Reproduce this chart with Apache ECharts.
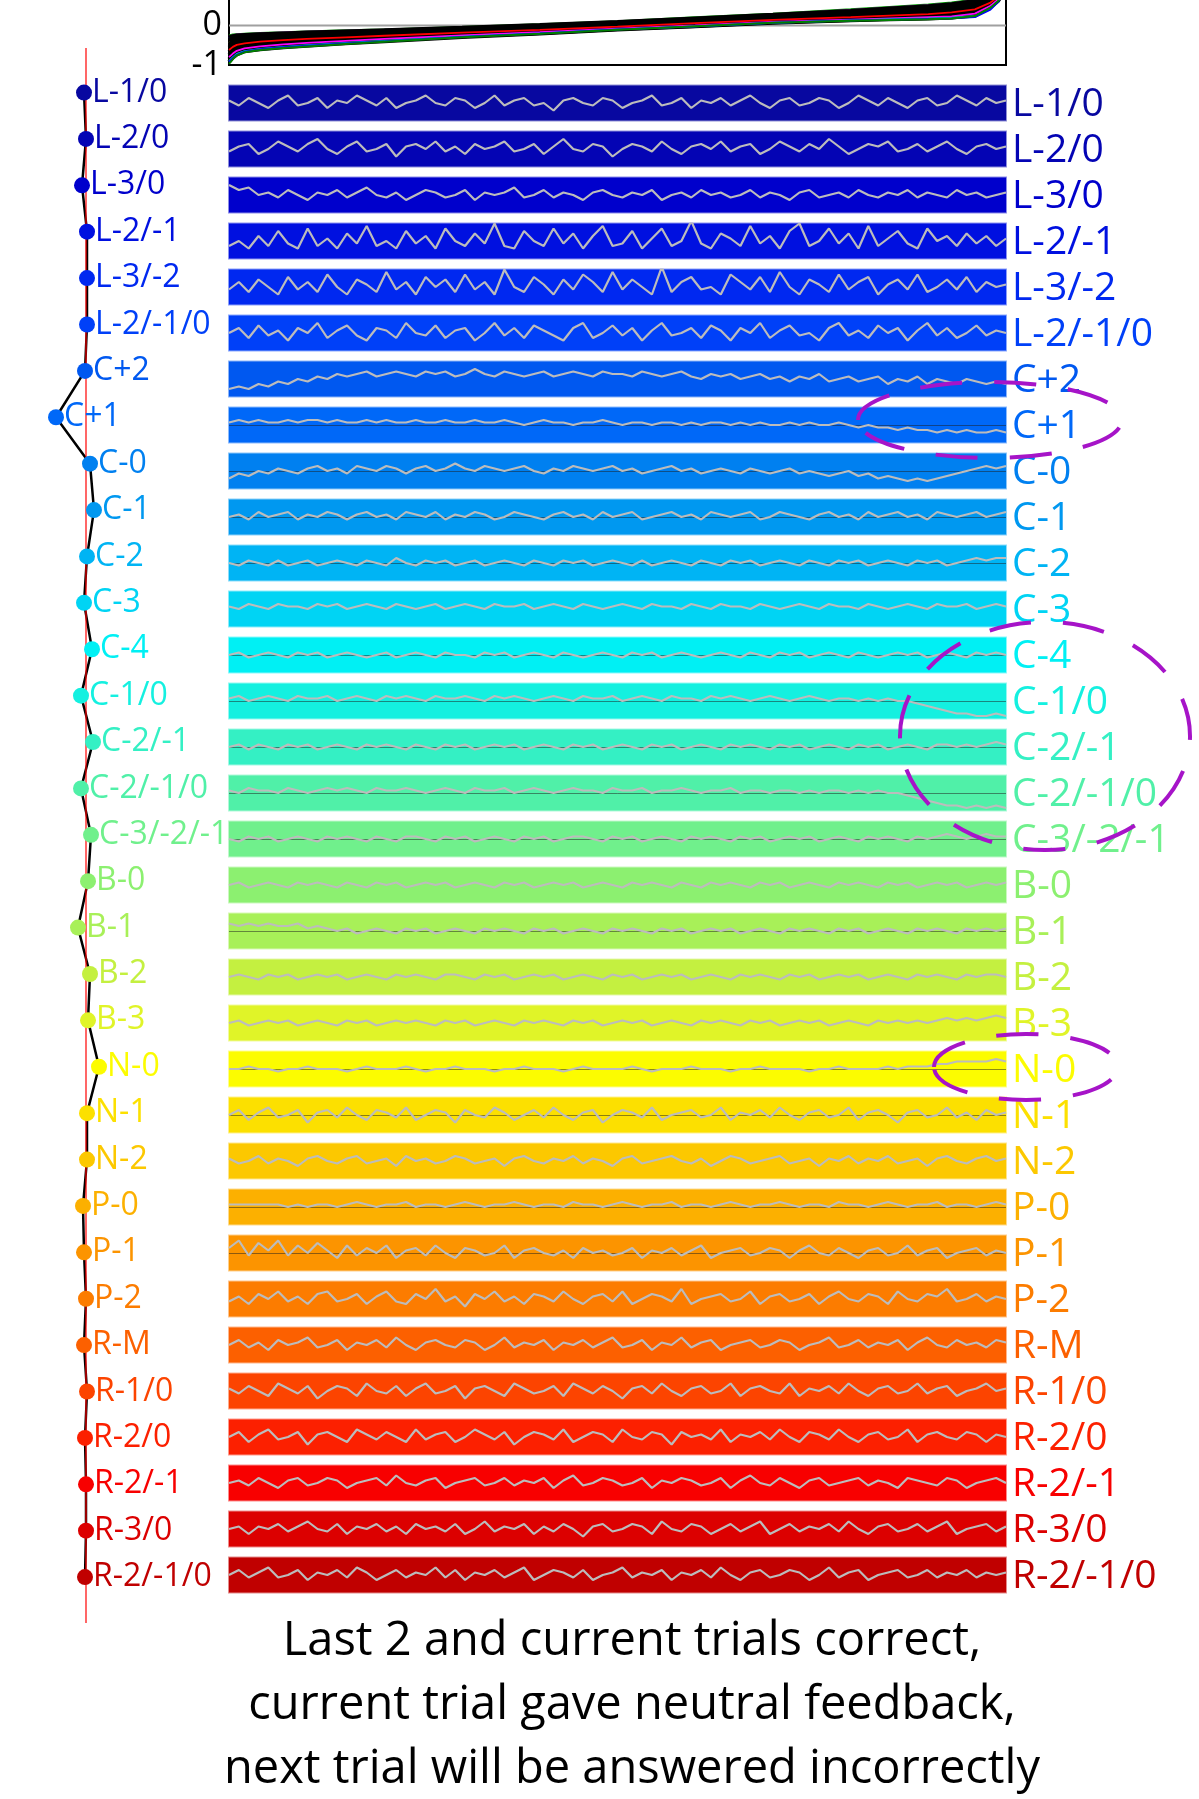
<!DOCTYPE html>
<html><head><meta charset="utf-8">
<script src="https://cdn.jsdelivr.net/npm/echarts@6/dist/echarts.min.js"></script>
<style>html,body{margin:0;padding:0;background:#fff}#c{width:1199px;height:1799px}</style>
</head><body><div id="c"></div>
<script>
// ---------- data ----------
const stripLabels = ['L-1/0','L-2/0','L-3/0','L-2/-1','L-3/-2','L-2/-1/0','C+2','C+1','C-0','C-1','C-2','C-3','C-4','C-1/0','C-2/-1','C-2/-1/0','C-3/-2/-1','B-0','B-1','B-2','B-3','N-0','N-1','N-2','P-0','P-1','P-2','R-M','R-1/0','R-2/0','R-2/-1','R-3/0','R-2/-1/0'];
const stripColors = ['#0808a0','#0404b4','#0000cc','#0010e0','#0028f0','#0040f8','#0058f0','#0068f8','#0080f0','#0098f0','#00b4f4','#00d4f4','#00f0f4','#14f0e0','#34f0c4','#50f0a8','#70f08c','#8cf070','#a8f058','#c4f040','#e0f428','#fcfc00','#fce000','#fcc800','#fcb000','#fc9400','#fc7c00','#fc6000','#fc4400','#fc2000','#f80000','#dc0000','#c00000'];
// horizontal offset of each tree node from the vertical reference line
const treeOffset = [-2,0,-4,1,1,1,-1,-30,4,8,1,-2,6,-5,7,-5,5,2,-8,4,2,13,1,1,-3,-2,0,-2,1,-1,0,0,-1];

// top chart
const topX = [0,0.005,0.01,0.02,0.04,0.07,0.1,0.15,0.2,0.3,0.4,0.5,0.6,0.7,0.8,0.85,0.9,0.93,0.96,0.98,0.99,1];
const topBlack1 = [-0.38,-0.33,-0.30,-0.28,-0.26,-0.23,-0.21,-0.17,-0.15,-0.09,-0.02,0.06,0.15,0.23,0.33,0.38,0.44,0.49,0.57,0.70,0.81,1.0];
const topBlack2 = [-0.48,-0.41,-0.37,-0.34,-0.31,-0.28,-0.26,-0.22,-0.19,-0.12,-0.05,0.03,0.12,0.20,0.28,0.33,0.38,0.42,0.50,0.65,0.77,0.99];
const topBlack3 = [-0.56,-0.48,-0.43,-0.40,-0.37,-0.33,-0.30,-0.26,-0.22,-0.15,-0.08,0.00,0.09,0.17,0.24,0.28,0.33,0.37,0.45,0.61,0.75,0.98];
const topBlack4 = [-0.67,-0.58,-0.53,-0.49,-0.45,-0.41,-0.37,-0.32,-0.28,-0.20,-0.13,-0.05,0.04,0.12,0.19,0.22,0.26,0.29,0.37,0.55,0.70,0.97];
const topBlack5 = [-0.74,-0.65,-0.59,-0.54,-0.49,-0.44,-0.41,-0.36,-0.31,-0.23,-0.15,-0.07,0.02,0.10,0.17,0.20,0.23,0.26,0.34,0.52,0.68,0.97];
const topBlack6 = [-0.86,-0.76,-0.69,-0.62,-0.57,-0.51,-0.47,-0.42,-0.37,-0.27,-0.19,-0.09,-0.01,0.08,0.14,0.17,0.19,0.21,0.28,0.48,0.65,0.96];
const topBlack7 = [-0.30,-0.27,-0.25,-0.24,-0.22,-0.20,-0.18,-0.15,-0.12,-0.06,0.01,0.09,0.18,0.27,0.37,0.43,0.49,0.54,0.62,0.75,0.85,1.03];
const topBlack8 = [-0.92,-0.81,-0.73,-0.65,-0.60,-0.55,-0.51,-0.45,-0.40,-0.29,-0.20,-0.10,-0.02,0.07,0.13,0.16,0.18,0.20,0.25,0.46,0.63,0.95];
const topGreenHi = [-0.25,-0.23,-0.22,-0.21,-0.19,-0.17,-0.15,-0.12,-0.10,-0.04,0.03,0.11,0.21,0.30,0.41,0.47,0.53,0.58,0.66,0.78,0.88,1.05];
const topPurple = [-0.28,-0.25,-0.23,-0.22,-0.20,-0.18,-0.16,-0.13,-0.11,-0.05,0.02,0.10,0.19,0.28,0.39,0.45,0.51,0.56,0.64,0.76,0.86,1.04];
const topBlueHi = [-0.33,-0.29,-0.27,-0.25,-0.23,-0.20,-0.18,-0.15,-0.13,-0.07,0.00,0.08,0.17,0.26,0.36,0.42,0.48,0.53,0.61,0.73,0.84,1.02];
const topYellow = [-0.45,-0.37,-0.34,-0.32,-0.29,-0.26,-0.24,-0.20,-0.17,-0.11,-0.04,0.04,0.13,0.21,0.30,0.35,0.40,0.45,0.53,0.67,0.79,0.99];
const topRed = [-0.62,-0.54,-0.49,-0.45,-0.41,-0.37,-0.34,-0.30,-0.26,-0.18,-0.11,-0.03,0.06,0.14,0.21,0.25,0.29,0.33,0.41,0.58,0.73,0.98];
const topMagenta = [-0.80,-0.71,-0.64,-0.58,-0.53,-0.48,-0.44,-0.39,-0.34,-0.25,-0.17,-0.08,0.00,0.09,0.15,0.18,0.21,0.23,0.30,0.50,0.66,0.96];
const topCyan = [-0.90,-0.80,-0.72,-0.65,-0.59,-0.54,-0.50,-0.44,-0.39,-0.28,-0.20,-0.10,-0.02,0.07,0.13,0.16,0.18,0.20,0.24,0.44,0.62,0.95];
const topBlueLo = [-0.92,-0.82,-0.74,-0.66,-0.60,-0.55,-0.51,-0.45,-0.40,-0.29,-0.20,-0.10,-0.02,0.07,0.13,0.15,0.17,0.18,0.21,0.40,0.60,0.94];
const topGreenLo = [-0.97,-0.85,-0.76,-0.68,-0.62,-0.57,-0.53,-0.47,-0.41,-0.30,-0.21,-0.11,-0.02,0.07,0.12,0.14,0.16,0.18,0.24,0.45,0.62,0.95];

// strip signals (units: strip half height = 7)
const sL10 = [1,-1,2,0,-2,1,3,-1,0,2,-2,1,0,3,1,-1,2,-2,0,1,3,0,-1,2,1,-2,0,3,-1,1,2,-1,0,-3,1,2,0,-1,2,1,-2,0,1,3,-1,0,2,-2,1,0,2,-1,1,3,0,-2,1,2,-1,0,2,1,-2,0,3,1,-1,2,0,-2,1,2,-1,0,3,1,-1,2,0,1];
const sL20 = [-1,1,2,-2,0,3,1,-1,2,4,0,-2,1,3,-1,0,2,-3,1,2,0,3,-1,1,-2,2,0,1,3,-1,0,2,-2,1,4,0,-1,2,1,-3,0,2,1,-1,3,0,-2,1,2,0,3,-1,1,2,-2,0,3,1,-1,2,0,4,1,-2,0,2,1,3,-1,0,2,-1,1,3,0,-2,1,2,0,1];
const sL30 = [4,2,3,0,1,-1,2,0,-2,1,0,2,-1,1,3,0,-1,1,-2,0,2,1,-1,0,2,-2,1,0,1,3,-1,0,2,-1,1,0,-2,1,2,0,-1,1,0,2,-2,0,1,-1,2,0,1,-1,0,2,-1,1,0,-2,1,2,-1,0,1,-1,2,0,-1,1,0,2,-1,1,0,-1,2,0,1,-1,0,1];
const sL21 = [-2,0,-3,2,-2,4,-1,-3,5,-2,1,-3,3,-1,6,-2,0,-3,4,-1,2,-3,5,0,-2,3,-1,7,-2,-3,4,0,-2,5,-1,3,-3,2,6,-2,-1,4,-3,1,5,-2,0,8,-1,-3,3,1,-2,6,-1,2,-3,4,7,-2,0,5,-1,3,-3,6,-2,1,4,-1,-3,5,0,2,-2,3,-1,2,-2,1];
const sL32 = [-1,2,-2,3,0,-3,4,-1,2,-2,5,0,-3,3,1,-2,6,-1,2,-3,4,0,3,-2,5,-1,2,-3,7,0,-2,4,1,-3,3,-1,5,2,-2,6,-1,3,0,-3,8,-2,2,4,-1,0,-3,5,2,-1,4,-2,6,0,-3,3,1,-2,5,-1,2,4,-3,1,3,-1,5,-2,0,3,-1,4,-2,2,0,1];
const sL210 = [0,2,-2,3,-1,1,-3,2,0,4,-2,1,3,-1,-3,2,1,-2,4,0,-1,3,-2,1,2,-3,0,4,-1,2,-2,3,1,-1,-3,2,4,-2,0,3,-1,2,-3,1,4,-1,0,2,-2,3,1,-3,2,0,4,-2,1,3,-1,0,-3,2,4,-1,1,-2,3,0,2,-3,1,4,-1,2,-2,0,3,-1,1,0];
const sCp2 = [-4,-3,-4,-2,-3,-1,-2,0,-1,1,0,2,1,2,3,1,2,3,2,1,3,2,3,1,2,4,2,1,3,2,1,2,3,1,2,3,2,1,3,2,2,1,3,2,1,2,3,1,0,2,1,2,0,1,2,0,1,-1,1,0,2,-1,0,1,-1,0,1,-2,0,-1,1,-2,0,-1,-2,0,-1,-2,-1,-2];
const sCp1 = [1,2,1,2,1,1,2,1,2,2,1,2,1,1,2,1,2,1,1,2,1,1,2,1,1,2,1,1,2,1,0,1,2,1,1,0,1,1,2,1,0,1,1,0,1,1,0,1,0,1,1,0,1,0,1,0,0,1,0,1,0,0,1,0,-1,0,-1,-1,-2,-1,-2,-2,-3,-2,-3,-2,-3,-3,-2,-3];
const sC0 = [-3,-1,-2,0,-1,1,0,-1,1,2,0,1,-1,2,1,0,2,1,-1,1,2,0,1,3,1,0,2,1,0,1,2,0,-1,1,0,2,1,0,1,2,0,1,-1,0,1,2,0,1,-1,0,1,0,-1,1,0,-1,0,1,-1,0,-1,-2,-1,0,-2,-1,-3,-2,-3,-4,-3,-4,-3,-2,-1,0,1,2,1,2];
const sC1 = [0,1,-1,2,0,1,2,-1,1,0,2,1,-1,1,2,0,1,-1,2,1,0,2,-1,1,0,2,1,-1,0,2,1,0,-1,1,2,0,1,-1,2,0,1,2,-1,0,1,2,0,1,-1,2,1,0,1,2,-1,0,2,1,0,-1,1,2,0,1,-1,2,0,1,2,0,1,-1,2,1,0,1,2,0,1,2];
const sC2 = [0,-1,1,0,-1,1,-1,0,1,-1,0,1,0,-1,1,0,-1,2,0,-1,1,0,1,-1,0,1,-1,0,1,0,-1,1,0,-1,1,0,1,-1,0,1,0,-1,1,-1,0,1,0,-1,1,0,-1,1,0,1,-1,0,1,0,-1,1,0,-1,1,0,1,-1,0,1,0,-1,1,0,1,-1,0,1,2,1,2,2];
const sC3 = [1,0,2,1,0,2,1,1,0,2,1,2,0,1,2,1,0,2,1,0,1,2,0,1,2,1,0,2,1,1,2,0,1,2,1,0,2,1,0,1,2,1,0,2,1,1,0,2,1,0,2,1,1,0,2,1,0,1,2,1,0,2,1,1,0,2,1,0,1,2,1,0,2,1,1,2,0,1,2,1];
const sC4 = [0,1,-1,0,1,0,-1,1,0,1,-1,0,1,0,-1,0,1,-1,0,1,0,-1,1,0,0,-1,1,0,1,-1,0,1,0,-1,1,0,-1,0,1,0,-1,1,0,1,-1,0,1,0,-1,0,1,0,-1,1,0,-1,1,0,1,-1,0,1,0,-1,1,0,-1,0,1,0,1,-1,0,1,0,-1,1,0,1,0];
const sC10 = [1,2,0,1,2,1,0,2,1,1,2,0,1,2,1,0,2,1,2,1,0,2,1,1,2,1,0,2,1,2,1,0,1,2,1,0,2,1,1,2,0,1,2,1,0,2,1,1,0,2,1,2,1,0,1,2,1,0,1,2,1,0,1,1,0,1,0,1,0,0,-1,-2,-3,-4,-5,-5,-6,-6,-5,-6];
const sC21 = [0,1,-1,1,0,-1,1,0,1,-1,0,1,0,-1,1,0,1,0,-1,1,0,-1,1,0,1,-1,0,1,0,1,-1,0,1,0,-1,1,0,1,-1,0,1,0,-1,1,0,1,-1,0,1,0,-1,1,0,1,0,-1,1,0,1,-1,0,1,0,-1,1,0,1,-1,0,1,0,-1,1,1,0,1,0,1,2,1];
const sC210 = [1,0,2,1,1,0,2,1,0,1,2,1,2,1,0,2,1,1,2,1,0,1,2,1,0,2,1,1,2,0,1,2,1,0,1,2,1,1,0,2,1,1,2,0,1,1,2,1,0,1,1,2,0,1,1,0,1,1,0,1,0,1,1,0,1,0,1,0,0,-1,-2,-3,-4,-5,-5,-6,-5,-6,-5,-6];
const sC321 = [0,-1,1,0,1,-1,0,1,0,-1,1,0,1,0,-1,1,0,-1,1,1,0,-1,1,0,1,-1,0,1,0,-1,1,0,1,-1,0,1,1,0,-1,1,0,1,-1,0,1,0,-1,1,0,1,0,-1,1,0,1,-1,0,1,0,1,-1,0,1,0,-1,1,0,1,0,-1,1,0,1,2,1,0,1,2,1,1];
const sB0 = [0,1,-1,0,1,0,-1,1,0,1,0,-1,1,0,-1,1,0,1,-1,0,1,0,1,-1,0,1,0,-1,1,0,1,-1,0,1,0,1,-1,0,1,0,-1,1,0,1,0,-1,1,0,-1,1,0,1,0,-1,1,0,1,-1,0,1,0,-1,1,0,1,0,-1,1,0,1,-1,0,1,0,1,-1,0,1,0,1];
const sB1 = [3,2,3,2,3,2,2,3,1,2,1,0,1,-1,0,1,0,-1,1,0,1,-1,0,1,0,-1,1,0,1,0,-1,1,0,1,-1,0,1,0,-1,1,0,1,0,-1,1,0,1,-1,0,1,0,1,-1,0,1,0,-1,1,0,1,0,-1,1,0,1,-1,0,1,0,-1,1,0,1,0,-1,1,0,1,0,1];
const sB2 = [0,1,0,-1,1,0,1,-1,0,1,0,1,-1,0,1,0,-1,1,0,1,0,-1,1,1,0,-1,1,0,1,-1,0,1,0,1,-1,0,1,0,-1,1,0,1,-1,0,1,0,1,-1,0,1,0,-1,1,0,1,0,-1,1,0,1,-1,0,1,0,1,-1,0,1,0,-1,1,0,1,0,-1,1,0,1,1,0];
const sB3 = [0,1,-1,0,1,0,1,-1,0,1,0,-1,1,0,1,-1,0,1,0,1,0,-1,1,0,1,-1,0,1,0,-1,1,0,1,0,-1,1,0,1,-1,0,1,0,1,-1,0,1,0,-1,1,0,1,0,-1,1,0,1,-1,0,1,0,1,-1,0,1,0,-1,1,0,1,0,1,0,1,2,1,2,1,2,3,2];
const sN0 = [0,0,1,0,0,-1,0,0,1,0,0,0,-1,0,1,0,0,0,1,0,-1,0,0,1,0,0,0,-1,0,0,1,0,0,0,-1,0,1,0,0,0,0,1,0,-1,0,0,0,1,0,0,0,-1,0,0,1,0,0,0,0,-1,0,0,1,0,0,0,0,1,0,1,1,1,2,2,3,3,3,3,4,3];
const sN1 = [0,2,-2,1,3,-1,0,2,-3,1,2,-1,3,0,-2,2,1,-1,3,-2,0,2,1,-3,2,0,-1,3,1,-2,0,2,-1,3,0,-2,1,2,-3,0,2,1,-1,3,-2,0,1,2,-1,0,3,-2,1,0,2,-1,3,0,-2,1,2,-1,0,3,-2,1,2,0,-3,1,2,-1,0,3,-1,1,-2,2,0,1];
const sN2 = [1,-1,0,2,-1,1,0,-2,1,2,0,-1,1,2,-1,0,1,-2,2,0,1,-1,0,2,1,-1,0,1,-2,1,2,0,-1,1,0,2,-1,1,0,-2,1,2,-1,0,1,2,0,-1,1,-2,0,2,1,-1,0,1,2,-1,0,1,-2,1,0,2,-1,1,0,2,-1,0,1,-2,1,2,0,-1,1,2,0,1];
const sP0 = [1,1,1,1,1,1,0,1,0,1,1,0,1,2,1,0,1,1,2,0,1,1,0,1,2,1,0,1,1,2,1,0,1,1,0,2,1,1,0,1,2,1,0,1,1,2,0,1,1,0,1,2,1,0,1,1,2,1,0,1,1,0,2,1,1,0,1,2,1,0,1,1,2,0,1,1,0,1,2,1];
const sP1 = [2,5,-1,4,1,5,-1,3,0,4,1,-2,3,-1,2,0,3,-2,1,2,-1,3,0,-2,2,1,-1,0,3,-2,1,2,0,-1,1,-2,2,0,1,-1,0,2,-2,1,0,2,-1,1,3,-2,0,1,2,-1,0,2,1,-2,1,3,0,-1,2,0,-2,1,2,-1,0,3,-1,1,2,-2,0,1,2,-1,1,0];
const sP2 = [-1,1,-2,2,0,3,-1,1,-2,2,3,-1,0,2,-2,1,3,-1,-2,2,0,4,-1,1,-3,2,0,3,-1,1,-2,2,1,-1,3,0,-2,1,2,-1,3,-2,0,2,1,-1,4,-2,0,1,2,-1,0,3,-2,1,2,-1,0,2,-2,1,3,0,-1,2,1,-2,3,0,-1,2,1,4,-1,0,2,-1,1,0];
const sRM = [0,2,-1,1,-2,2,0,1,3,-1,0,2,-2,1,0,2,-1,3,0,-2,1,2,0,-1,2,1,-2,0,3,-1,1,0,2,-2,1,0,2,-1,1,3,-1,0,2,-2,1,0,3,-1,1,2,-2,0,1,2,-1,0,2,1,-2,0,1,3,-1,0,2,-1,1,0,2,-2,1,3,0,-1,2,0,1,-1,2,1];
const sR10 = [1,-1,2,0,-2,3,1,-1,2,-3,0,2,1,-2,3,0,-1,2,-2,1,3,-1,0,2,-3,1,2,0,-2,3,1,-1,0,2,-2,3,1,-1,2,0,-3,1,2,-1,3,0,-2,1,2,-1,0,3,-2,1,2,0,-1,3,-2,1,0,2,-1,3,0,-2,1,2,-1,0,3,-1,1,2,-2,0,1,3,0,1];
const sR20 = [0,2,-2,1,3,-1,0,2,-3,1,2,0,-2,3,1,-1,2,0,-2,3,-1,1,2,-2,0,3,1,-1,2,-3,0,2,1,-1,3,-2,0,2,1,-2,3,0,-1,2,1,-3,2,0,1,-1,3,-2,1,0,2,-1,3,0,-2,2,1,-1,3,0,-2,1,2,-1,0,3,-2,1,2,0,-1,2,1,-2,1,0];
const sR21 = [0,1,-1,2,0,-2,1,2,-1,0,2,1,-2,0,1,2,-1,3,0,-1,1,2,-2,0,1,2,-1,0,2,-1,1,0,2,-2,1,3,-1,0,2,1,-1,0,2,-2,1,0,2,1,-1,0,2,-2,1,3,0,-1,2,0,-2,1,2,-1,0,1,2,-1,1,0,-2,2,1,0,-1,2,1,-2,0,1,2,0];
const sR30 = [0,1,-2,1,0,2,-1,1,3,0,-1,2,-2,1,0,2,-1,1,-2,2,0,1,-1,2,-2,0,3,-1,1,0,2,-2,1,-1,2,0,-3,1,2,-1,0,2,1,-2,3,0,-1,2,1,-2,0,2,-1,1,3,-2,0,2,-1,1,0,2,-1,3,0,-2,1,2,-1,0,2,-1,1,3,-2,0,1,2,-1,1];
const sR210 = [0,2,-1,1,3,-1,0,2,-2,1,0,2,-1,3,1,-2,0,2,-1,1,0,3,-1,2,-2,1,0,2,-1,1,3,-2,0,2,1,-1,2,-2,0,1,3,-1,1,0,2,-2,1,0,2,-1,3,0,-2,1,2,-1,0,2,1,-2,0,3,-1,1,2,-2,0,1,2,-1,0,2,-1,1,0,2,-1,1,0,1];
const stripData = [sL10,sL20,sL30,sL21,sL32,sL210,sCp2,sCp1,sC0,sC1,sC2,sC3,sC4,sC10,sC21,sC210,sC321,sB0,sB1,sB2,sB3,sN0,sN1,sN2,sP0,sP1,sP2,sRM,sR10,sR20,sR21,sR30,sR210];
const zeroLineStrips = [7,8,9,10,12,13,14,15,16,18,21,22,24,25];

const caption = 'Last 2 and current trials correct,\ncurrent trial gave neutral feedback,\nnext trial will be answered incorrectly';

// ---------- chart ----------
const FF = '"Open Sans", "Noto Sans", sans-serif';
const chart = echarts.init(document.getElementById('c'), null, {renderer:'canvas'});
const grids = [], xAxes = [], yAxes = [], series = [];

// top chart (grid 0)
grids.push({left:229, top:-14, width:777, height:79, show:true, backgroundColor:'#fff', borderColor:'#000', borderWidth:2, outerBoundsMode:'none', containLabel:false});
xAxes.push({gridIndex:0, type:'value', min:0, max:1, show:false});
yAxes.push({gridIndex:0, type:'value', min:-1, max:1, interval:1,
  axisLine:{show:false}, axisTick:{show:false}, splitLine:{show:false},
  axisLabel:{fontSize:34, color:'#000', margin:7, fontFamily:FF}});
const pairs = arr => arr.map((v,i) => [topX[i], v]);
series.push({type:'line', xAxisIndex:0, yAxisIndex:0, data:[[0,0],[1,0]], symbol:'none', lineStyle:{color:'#a0a0a0', width:2}, silent:true});
const topDefs = [
  [topGreenHi,'#00a000',2],[topPurple,'#a000c0',2],[topBlueHi,'#0000ff',2],[topYellow,'#d8d800',2],
  [topBlack7,'#000',4],[topBlack1,'#000',4],[topBlack2,'#000',4],[topBlack3,'#000',4],[topBlack4,'#000',4],[topBlack5,'#000',4],[topBlack6,'#000',4],[topBlack8,'#000',4],
  [topRed,'#ff0000',1.8],[topMagenta,'#ff00ff',1.8],[topCyan,'#00c0c0',1.8],[topBlueLo,'#0000ff',1.8],[topGreenLo,'#008000',2]
];
topDefs.forEach(d => series.push({type:'line', xAxisIndex:0, yAxisIndex:0, data:pairs(d[0]), symbol:'none', lineStyle:{color:d[1], width:d[2]}, silent:true}));

// tree (grid 1)
grids.push({left:40, top:48, width:100, height:1575, outerBoundsMode:'none', containLabel:false});
xAxes.push({gridIndex:1, type:'value', min:-46, max:54, show:false});
yAxes.push({gridIndex:1, type:'value', min:-0.96, max:32.99, inverse:true, show:false});
series.push({type:'line', xAxisIndex:1, yAxisIndex:1, data:treeOffset.map((v,i)=>[v,i]), symbol:'none', lineStyle:{color:'#000', width:2.5}, z:2, silent:true});
series.push({type:'line', xAxisIndex:1, yAxisIndex:1, data:[[0,-0.96],[0,32.99]], symbol:'none', lineStyle:{color:'#ff0000', width:1.2}, z:3, silent:true});
series.push({type:'scatter', xAxisIndex:1, yAxisIndex:1, symbolSize:16, z:4, silent:true,
  data: treeOffset.map((v,i)=>({value:[v,i], itemStyle:{color:stripColors[i], opacity:1}, label:{color:stripColors[i]}})),
  label:{show:true, position:'right', distance:0, fontSize:32, fontFamily:FF, formatter:p=>stripLabels[p.dataIndex]}});

// right labels (grid 2)
grids.push({left:229, top:82, width:777, height:1518, outerBoundsMode:'none', containLabel:false});
xAxes.push({gridIndex:2, type:'value', min:0, max:1, show:false});
yAxes.push({gridIndex:2, type:'category', data:stripLabels, inverse:true, position:'right',
  axisLine:{show:false}, axisTick:{show:false}, splitLine:{show:false},
  axisLabel:{interval:0, fontSize:39, margin:6, fontFamily:FF, color:(v,i)=>stripColors[i]}});

// strips
stripData.forEach((arr, i) => {
  const g = 3 + i;
  grids.push({left:229, top:85.5 + 46*i, width:777, height:35, show:true,
    backgroundColor:stripColors[i], borderColor:echarts.color.modifyAlpha(stripColors[i],0.45), borderWidth:2,
    outerBoundsMode:'none', containLabel:false});
  xAxes.push({gridIndex:g, type:'category', boundaryGap:false, data:arr.map((v,k)=>k), show:false});
  yAxes.push({gridIndex:g, type:'value', min:-7, max:7, show:false});
  const s = {type:'line', xAxisIndex:g, yAxisIndex:g, data:arr, symbol:'none', silent:true, z:3,
    lineStyle:{color:'#bcbcbc', width:2.2}};
  if (zeroLineStrips.indexOf(i) >= 0) {
    s.markLine = {silent:true, symbol:'none', label:{show:false}, animation:false, z:2,
      data:[{yAxis:0}], lineStyle:{color:'rgba(30,30,30,0.5)', width:1, type:'solid'}};
  }
  series.push(s);
});

const dash = {fill:'none', stroke:'#a614c8', lineWidth:4, lineDash:[42,32]};
chart.setOption({
  animation:false,
  backgroundColor:'#fff',
  textStyle:{fontFamily:FF},
  grid:grids, xAxis:xAxes, yAxis:yAxes, series:series,
  graphic:[
    {type:'ellipse', z:100, silent:true, shape:{cx:990, cy:420, rx:132, ry:38}, style:dash},
    {type:'ellipse', z:100, silent:true, shape:{cx:1045, cy:736, rx:145, ry:114}, style:dash},
    {type:'ellipse', z:100, silent:true, shape:{cx:1026, cy:1067, rx:92, ry:33}, style:dash},
    {type:'text', z:100, silent:true, x:632, y:1610,
      style:{text:caption, fontSize:47, fontFamily:FF, fill:'#000', align:'center', verticalAlign:'top', lineHeight:64}}
  ]
});
</script>
</body></html>
